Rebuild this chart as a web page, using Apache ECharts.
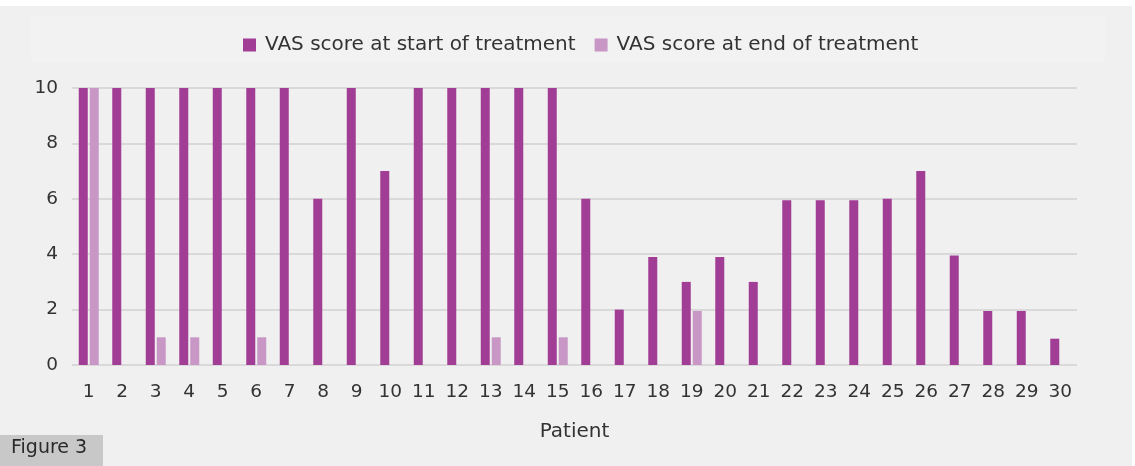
<!DOCTYPE html>
<html>
<head>
<meta charset="utf-8">
<script src="https://cdn.jsdelivr.net/npm/echarts@6/dist/echarts.min.js"></script>
<style>
  html, body { margin: 0; padding: 0; background: #fff; }
  #chart { width: 1135px; height: 466px; }
</style>
</head>
<body>
<div id="chart"></div>
<script>
const patients = Array.from({ length: 30 }, (_, i) => String(i + 1));
const vasStart = [10, 10, 10, 10, 10, 10, 10, 6, 10, 7, 10, 10, 10, 10, 10, 6, 2, 3.9, 3, 3.9, 3, 5.95, 5.95, 5.95, 6, 7, 3.95, 1.95, 1.95, 0.95];
const vasEnd = [10, 0, 1, 1, 0, 1, 0, 0, 0, 0, 0, 0, 1, 0, 1, 0, 0, 0, 1.95, 0, 0, 0, 0, 0, 0, 0, 0, 0, 0, 0];
const yTicks = [0, 2, 4, 6, 8, 10];

const font = '"DejaVu Sans", sans-serif';
const chart = echarts.init(document.getElementById('chart'));

const option = {
  animation: false,
  graphic: [
    { type: 'rect', left: 0, top: 6, shape: { width: 1132, height: 460 }, style: { fill: '#eff0ef' }, z: -10 },
    { type: 'rect', left: 31, top: 16, shape: { width: 1074, height: 46 }, style: { fill: '#f2f2f2' }, z: -9 },
    { type: 'rect', left: 0, top: 435, shape: { width: 103, height: 31 }, style: { fill: '#c8c8c8' }, z: -9 },
    { type: 'text', left: 11, top: 439, style: { text: 'Figure 3', font: '19px ' + font, fill: '#2a2a2a' } }
  ],
  legend: {
    top: 30,
    left: 238,
    icon: 'rect',
    itemWidth: 13,
    itemHeight: 13,
    itemGap: 19,
    textStyle: { fontFamily: font, fontSize: 20, color: '#333', padding: [0, 0, 0, 4] },
    data: ['VAS score at start of treatment', 'VAS score at end of treatment']
  },
  grid: { left: 72, right: 58, top: 88, bottom: 101 },
  xAxis: {
    type: 'category',
    data: patients,
    name: 'Patient',
    nameLocation: 'middle',
    nameGap: 57,
    nameTextStyle: { fontFamily: font, fontSize: 20, color: '#333' },
    axisLine: { show: false },
    axisTick: { show: false },
    axisLabel: { fontFamily: font, fontSize: 18.5, color: '#333', margin: 18 }
  },
  yAxis: {
    type: 'value',
    min: 0,
    max: 10,
    interval: 2,
    axisLabel: { fontFamily: font, fontSize: 18.5, color: '#333', margin: 14 },
    splitLine: { lineStyle: { color: '#d2d2d2', width: 1.5 } }
  },
  series: [
    {
      name: 'VAS score at start of treatment',
      type: 'bar',
      data: vasStart,
      barWidth: 9,
      barGap: '22%',
      itemStyle: { color: '#a23d96' }
    },
    {
      name: 'VAS score at end of treatment',
      type: 'bar',
      data: vasEnd,
      barWidth: 9,
      itemStyle: { color: '#c897c6' }
    }
  ]
};
chart.setOption(option);
</script>
</body>
</html>
